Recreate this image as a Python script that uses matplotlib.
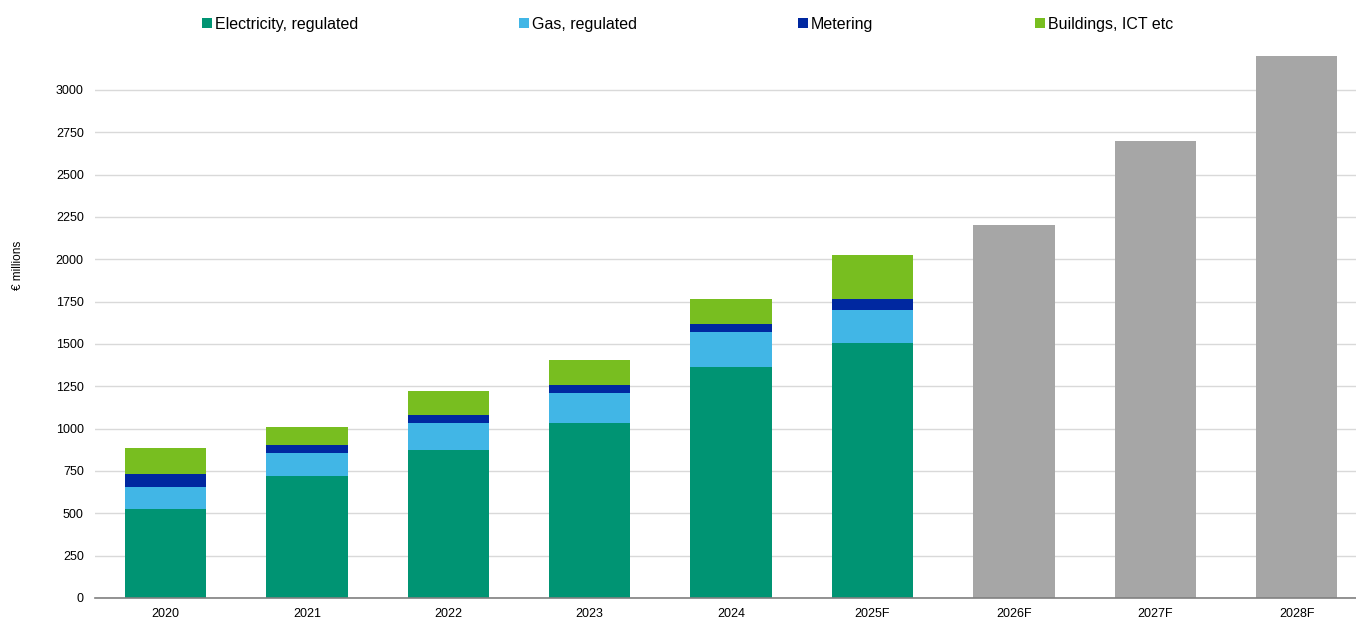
#!/usr/bin/env python

import numpy as np
import matplotlib.pyplot as plt

plt.rcParams['font.family'] = ['Liberation Sans', 'DejaVu Sans']

years = ['2020', '2021', '2022', '2023', '2024', '2025F', '2026F', '2027F', '2028F']

# split known for actuals + 2025F, forecast years only have totals
electricity = [527, 722, 876, 1035, 1364, 1504]
gas = [128, 134, 157, 176, 209, 197]
metering = [79, 49, 48, 49, 43, 65]
buildings = [152, 105, 143, 145, 152, 258]
forecast_total = [2200, 2700, 3200]

series = [
    ('Electricity, regulated', electricity, '#009473'),
    ('Gas, regulated', gas, '#41b6e6'),
    ('Metering', metering, '#0028a0'),
    ('Buildings, ICT etc', buildings, '#78be20'),
]

fig = plt.figure(figsize=(13.56, 6.18), dpi=100)
ax = fig.add_axes([0.070, 0.0324, 0.930, 0.877])

x = np.arange(len(years))
w = 0.575
n = len(electricity)

bottom = np.zeros(n)
for label, vals, col in series:
    ax.bar(x[:n], vals, w, bottom=bottom, color=col, label=label, linewidth=0)
    bottom += np.array(vals)

ax.bar(x[n:], forecast_total, w, color='#a6a6a6', linewidth=0)

ax.set_xlim(-0.5, len(years) - 0.58)
ax.set_ylim(0, 3200)
ax.set_yticks(np.arange(0, 3001, 250))
ax.set_xticks(x)
ax.set_xticklabels(years)
ax.tick_params(axis='both', length=0, labelsize=9, colors='#000000')
ax.tick_params(axis='y', pad=8)
ax.tick_params(axis='x', pad=7)

ax.grid(axis='y', color='#d9d9d9', linewidth=1)
ax.set_axisbelow(True)
for s in ['top', 'right', 'left']:
    ax.spines[s].set_visible(False)
ax.spines['bottom'].set_color('#808080')
ax.spines['bottom'].set_linewidth(1.2)

fig.text(0.013, 0.57, '€ millions', rotation=90, ha='center', va='center', fontsize=8.5)

fig.legend(loc='center', bbox_to_anchor=(0.507, 0.961), ncol=4, frameon=False,
           fontsize=11.5, handlelength=0.6, handleheight=0.6, handletextpad=0.2,
           columnspacing=10.1)

fig.savefig('out.png', dpi=100)
